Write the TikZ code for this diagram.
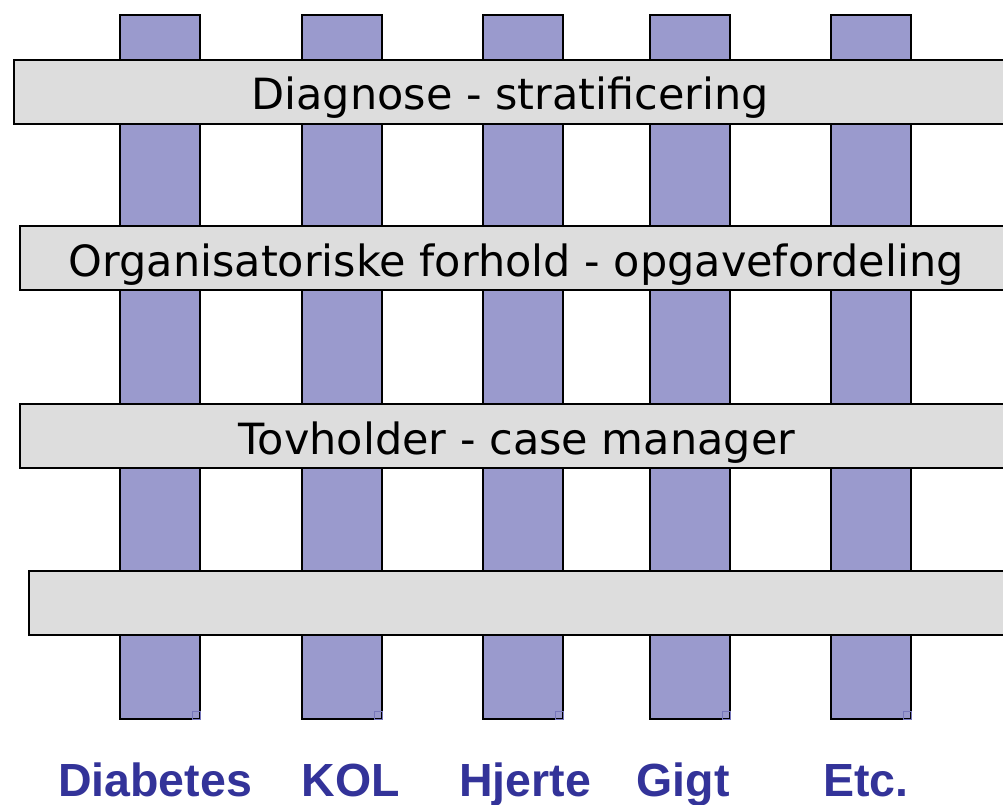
\documentclass[tikz,border=0pt]{standalone}
\usepackage{fontspec}
\setmainfont{DejaVu Sans}
\newfontfamily\labelfont{Liberation Sans}
\definecolor{barblue}{HTML}{9A9ACD}
\definecolor{bargray}{HTML}{DDDDDD}
\definecolor{labelblue}{HTML}{333399}
\definecolor{cornerblue}{HTML}{7777BB}
\tikzset{
  colbar/.style={draw=black, line width=1.8pt, fill=barblue, rectangle, inner sep=0pt,
    minimum width=80pt, minimum height=704pt},
  rowbar/.style={draw=black, line width=1.8pt, fill=bargray, rectangle, inner sep=0pt,
    minimum height=64pt, font=\fontsize{43}{50}\selectfont, text height=37pt, text depth=1pt},
  collabel/.style={font=\labelfont\bfseries\fontsize{46.5}{52}\selectfont, text=labelblue,
    anchor=base, inner sep=0pt},
  corner/.style={draw=cornerblue, line width=0.5pt}
}
\begin{document}
\begin{tikzpicture}[x=1pt,y=-1pt]
\useasboundingbox (0,0) rectangle (1003,805);
\clip (0,0) rectangle (1003,805);
% vertical bars
\node[colbar] (c1) at (160,367) {};
\node[colbar] (c2) at (342,367) {};
\node[colbar] (c3) at (523,367) {};
\node[colbar] (c4) at (690,367) {};
\node[colbar] (c5) at (871,367) {};
% small corner marks
\foreach \n in {c1,c2,c3,c4,c5}{
  \draw[corner] ([shift={(-9pt,9pt)}]\n.south east) rectangle ([shift={(-1pt,1pt)}]\n.south east);
}
% horizontal bars
\node[rowbar, minimum width=992pt] (r1) at (510,92) {Diagnose - stratificering};
\node[rowbar, minimum width=992pt] (r2) at (516,258) {Organisatoriske forhold - opgavefordeling};
\node[rowbar, minimum width=994pt] (r3) at (517,436) {Tovholder - case manager};
\node[rowbar, minimum width=990pt] (r4) at (524,603) {};
% labels
\node[collabel] (l1) at (155,796) {Diabetes};
\node[collabel] (l2) at (351,796) {KOL};
\node[collabel] (l3) at (525,796) {Hjerte};
\node[collabel] (l4) at (683,796) {Gigt};
\node[collabel] (l5) at (866,796) {Etc.};
\end{tikzpicture}
\end{document}
